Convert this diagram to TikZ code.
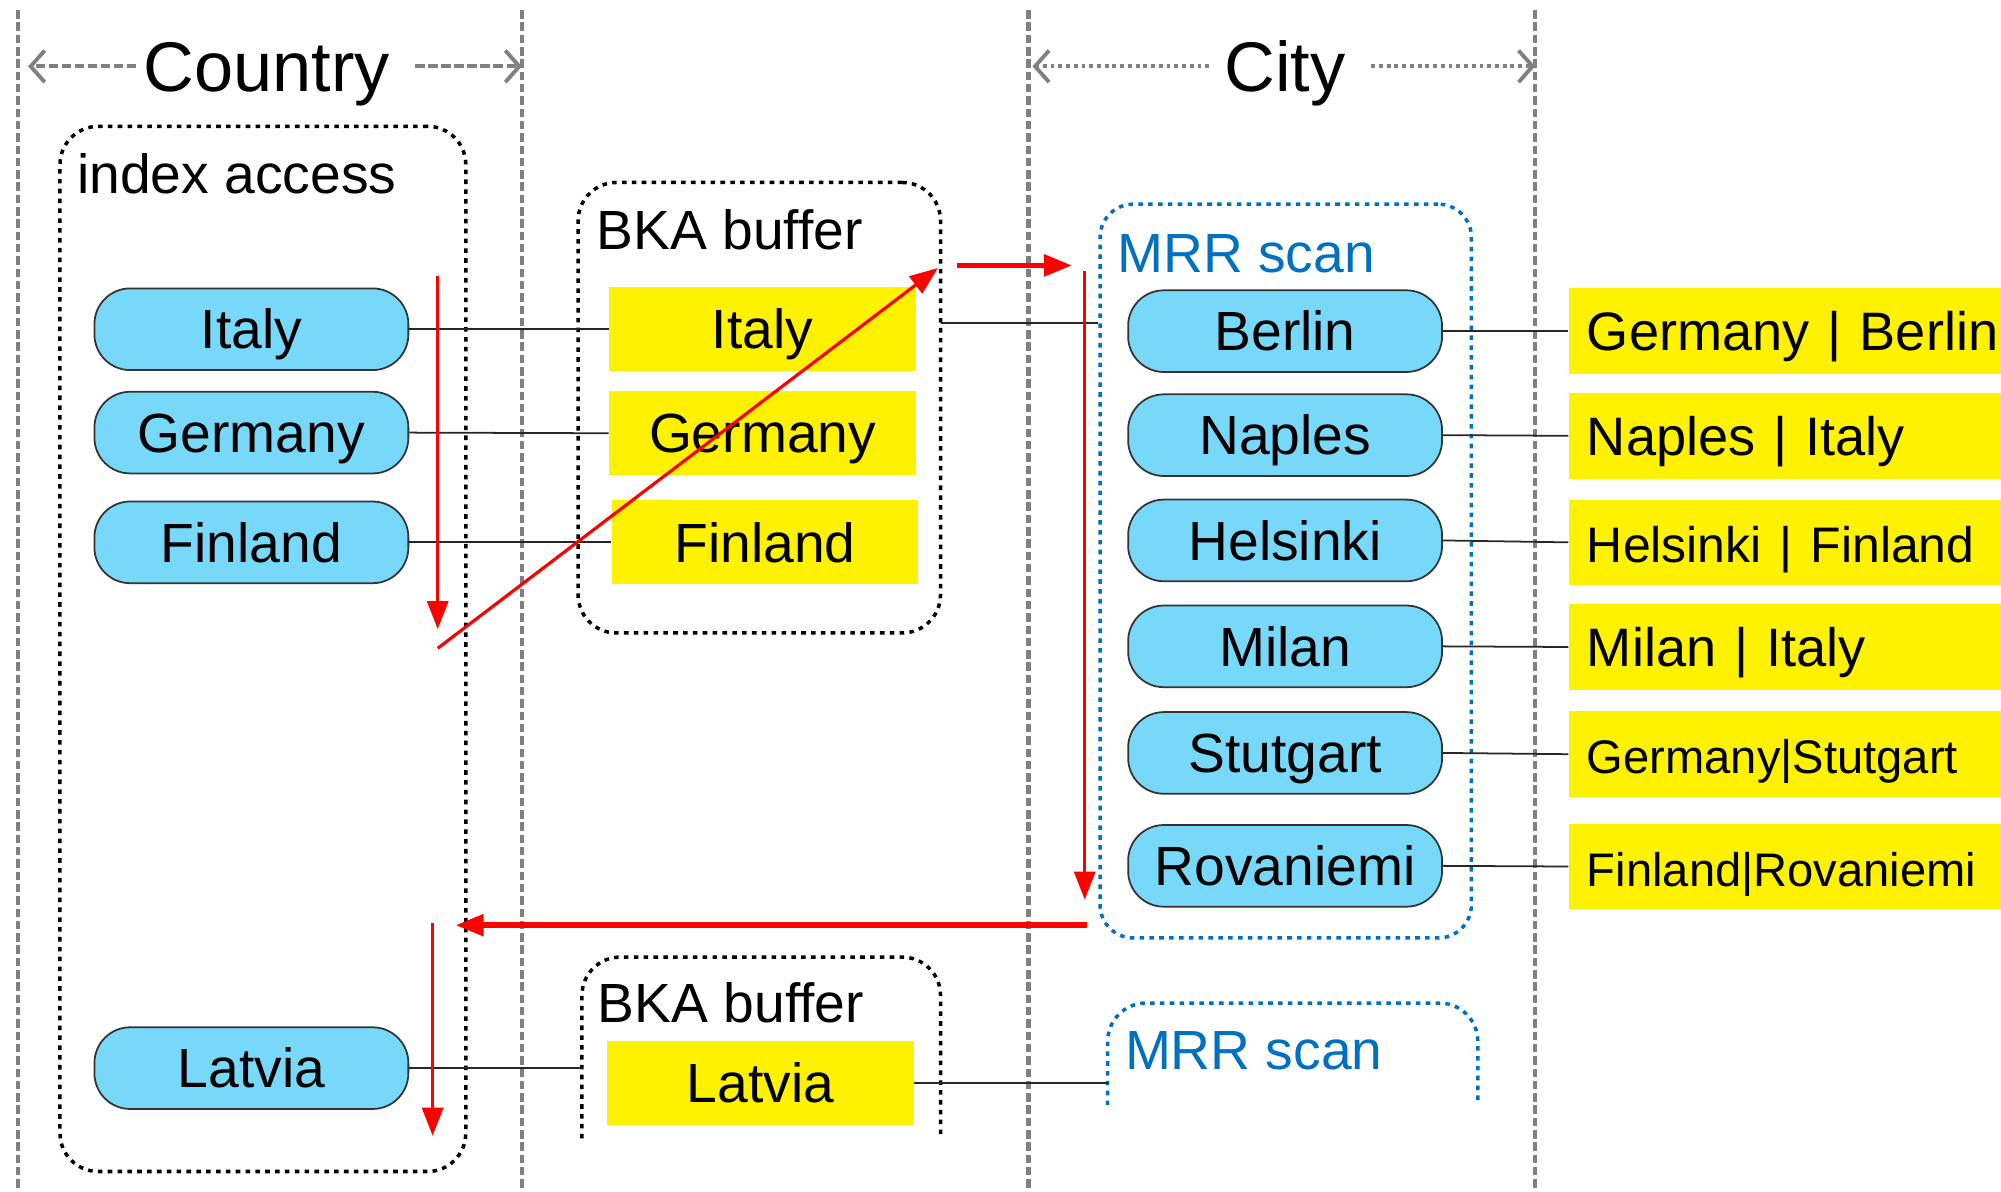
\documentclass[tikz,border=0pt]{standalone}
\usepackage{fontspec}
\setmainfont{Liberation Sans}
\usetikzlibrary{arrows.meta}
\definecolor{pillblue}{RGB}{120,216,250}
\definecolor{mrrblue}{RGB}{0,112,192}
\definecolor{lanegray}{RGB}{128,128,128}
\def\pu{0.01276cm}
\newcommand{\fsmain}{\fontsize{15.7}{18}\selectfont}
\newcommand{\fsrow}{\fontsize{15.4}{18}\selectfont}
\newcommand{\fssmall}{\fontsize{13.4}{16}\selectfont}
\newcommand{\fsmid}{\fontsize{14.2}{17}\selectfont}
\newcommand{\fstitle}{\fontsize{20}{24}\selectfont}

\begin{document}
\begin{tikzpicture}[x=0.01276cm, y=-0.01276cm,
  lane/.style={lanegray, line width=1.2pt, dash pattern=on 2.4pt off 1.1pt},
  pill/.style={draw=black!80, fill=pillblue, line width=0.5pt, rounded corners=28*\pu,
    minimum width=246*\pu, minimum height=64*\pu, inner sep=0pt, font=\fsmain,
    text height=11.2pt, text depth=0pt},
  ybox/.style={fill=yellow, minimum width=240*\pu, minimum height=66*\pu, inner sep=0pt,
    font=\fsmain, text height=11.2pt, text depth=0pt},
  rbox/.style={fill=yellow, anchor=west, minimum height=67*\pu, text width=311*\pu,
    inner xsep=14*\pu, inner ysep=0pt, align=left, font=\fsrow, text height=11.2pt, text depth=0pt},
  frame/.style={draw=black, line width=1pt, dash pattern=on 1.3pt off 1.5pt,
    rounded corners=30*\pu, inner sep=0pt},
  mrrframe/.style={frame, draw=mrrblue},
  boxlabel/.style={anchor=west, inner sep=0pt, font=\fsmain, text height=11.2pt, text depth=0pt},
  link/.style={black!85, line width=0.5pt},
  flow/.style={red, line width=0.9pt, -{Triangle[length=8pt,width=6pt]}},
  flowthick/.style={flow, line width=1.6pt},
  title/.style={inner xsep=2pt, inner ysep=0pt, font=\fstitle, text height=14.3pt, text depth=0pt},
  dasharrow/.style={lanegray, line width=1.1pt, dash pattern=on 2.6pt off 1.1pt,
    -{Straight Barb[length=4pt,width=9pt,line width=1.1pt]}},
  dotarrow/.style={lanegray, line width=1.1pt, dash pattern=on 1.1pt off 1.1pt,
    -{Straight Barb[length=4pt,width=9pt,line width=1.1pt]}},
]
\useasboundingbox (0,0) rectangle (1568,934);

% lane separators
\coordinate (l1t) at (14,8);    \coordinate (l1b) at (14,934);
\coordinate (l2t) at (409,8);   \coordinate (l2b) at (409,934);
\coordinate (l3t) at (806,8);   \coordinate (l3b) at (806,934);
\coordinate (l4t) at (1203,8);  \coordinate (l4b) at (1203,934);
\draw[lane] (l1t) -- (l1b);
\draw[lane] (l2t) -- (l2b);
\draw[lane] (l3t) -- (l3b);
\draw[lane] (l4t) -- (l4b);

% column titles
\node[title] (tCountry) at (209,52) {Country};
\node[title] (tCity) at (1007,52) {City};
\coordinate (tCountryL) at (22,52);
\coordinate (tCountryR) at (409,52);
\coordinate (tCityL) at (809,52);
\coordinate (tCityR) at (1203,52);
\draw[dasharrow] (tCountry.west) -- (tCountryL);
\draw[dasharrow] ([xshift=14*\pu]tCountry.east) -- (tCountryR);
\draw[dotarrow] ([xshift=-6*\pu]tCity.west) -- (tCityL);
\draw[dotarrow] ([xshift=14*\pu]tCity.east) -- (tCityR);

% containers
\node[frame, minimum width=318*\pu, minimum height=819*\pu] (idx) at (206,508.5) {};
\node[boxlabel] (idxlab) at (60,136) {index access};
\node[frame, minimum width=284*\pu, minimum height=353*\pu] (bka1) at (595,319.5) {};
\node[boxlabel] (bka1lab) at (467,180) {BKA buffer};
\node[mrrframe, rounded corners=26*\pu, minimum width=291*\pu, minimum height=575*\pu] (mrr1) at (1007.5,447.5) {};
\node[boxlabel, text=mrrblue] (mrr1lab) at (875,198) {MRR scan};

% open containers at the bottom
\coordinate (bka2bl) at (456,892);
\coordinate (bka2br) at (737,892);
\draw[frame] (bka2bl) -- (456,750) -- (737,750) -- (bka2br);
\node[boxlabel] (bka2lab) at (468,786) {BKA buffer};
\coordinate (mrr2bl) at (868,866);
\coordinate (mrr2br) at (1158,866);
\draw[mrrframe] (mrr2bl) -- (868,786) -- (1158,786) -- (mrr2br);
\node[boxlabel, text=mrrblue] (mrr2lab) at (881,823) {MRR scan};

% country index entries
\node[pill] (pItaly)   at (197,258) {Italy};
\node[pill] (pGermany) at (197,339) {Germany};
\node[pill] (pFinland) at (197,425) {Finland};
\node[pill] (pLatvia)  at (197,837) {Latvia};

% BKA buffer contents
\node[ybox] (bItaly)   at (597.5,258) {Italy};
\node[ybox] (bGermany) at (597.5,339.5) {Germany};
\node[ybox] (bFinland) at (599.5,425) {Finland};
\node[ybox] (bLatvia)  at (596,848.5) {Latvia};

% city index entries
\node[pill] (cBerlin)     at (1007,259.5) {Berlin};
\node[pill] (cNaples)     at (1007,341) {Naples};
\node[pill] (cHelsinki)   at (1007,423.5) {Helsinki};
\node[pill] (cMilan)      at (1007,506.5) {Milan};
\node[pill] (cStutgart)   at (1007,590) {Stutgart};
\node[pill] (cRovaniemi)  at (1007,678.5) {Rovaniemi};

% joined rows
\node[rbox] (rBerlin)    at (1229,259.5) {\mbox{Germany | Berlin}};
\node[rbox] (rNaples)    at (1229,341.5) {\mbox{Naples | Italy}};
\node[rbox] (rHelsinki)  at (1229,425) {\fsmid\mbox{Helsinki | Finland}};
\node[rbox] (rMilan)     at (1229,507) {\mbox{Milan | Italy}};
\node[rbox] (rStutgart)  at (1229,591) {\fssmall\mbox{Germany|Stutgart}};
\node[rbox] (rRovaniemi) at (1229,679) {\fssmall\mbox{Finland|Rovaniemi}};

% links
\draw[link] (pItaly.east) -- (bItaly.west);
\draw[link] (pGermany.east) -- (bGermany.west);
\draw[link] (pFinland.east) -- (bFinland.west);
\coordinate (bkaOut) at (737,253);
\draw[link] (bkaOut) -- (bkaOut -| mrr1.west);
\draw[link] (cBerlin.east) -- (rBerlin.west);
\draw[link] (cNaples.east) -- (rNaples.west);
\draw[link] (cHelsinki.east) -- (rHelsinki.west);
\draw[link] (cMilan.east) -- (rMilan.west);
\draw[link] (cStutgart.east) -- (rStutgart.west);
\draw[link] (cRovaniemi.east) -- (rRovaniemi.west);
\draw[link] (pLatvia.east) -- (pLatvia.east -| bka2bl);
\draw[link] (bLatvia.east) -- (bLatvia.east -| mrr2bl);

% execution flow
\coordinate (f1a) at (343,216);  \coordinate (f1b) at (343,493);
\coordinate (f2a) at (343,508);  \coordinate (f2b) at (735,210);
\coordinate (f3a) at (750,208);  \coordinate (f3b) at (840,208);
\coordinate (f4a) at (850,212);  \coordinate (f4b) at (850,705);
\coordinate (f5a) at (852,725);  \coordinate (f5b) at (357,725);
\coordinate (f6a) at (339,723);  \coordinate (f6b) at (339,890);
\draw[flow] (f1a) -- (f1b);
\draw[flow] (f2a) -- (f2b);
\draw[flowthick] (f3a) -- (f3b);
\draw[flow] (f4a) -- (f4b);
\draw[flowthick] (f5a) -- (f5b);
\draw[flow] (f6a) -- (f6b);
\end{tikzpicture}
\end{document}
